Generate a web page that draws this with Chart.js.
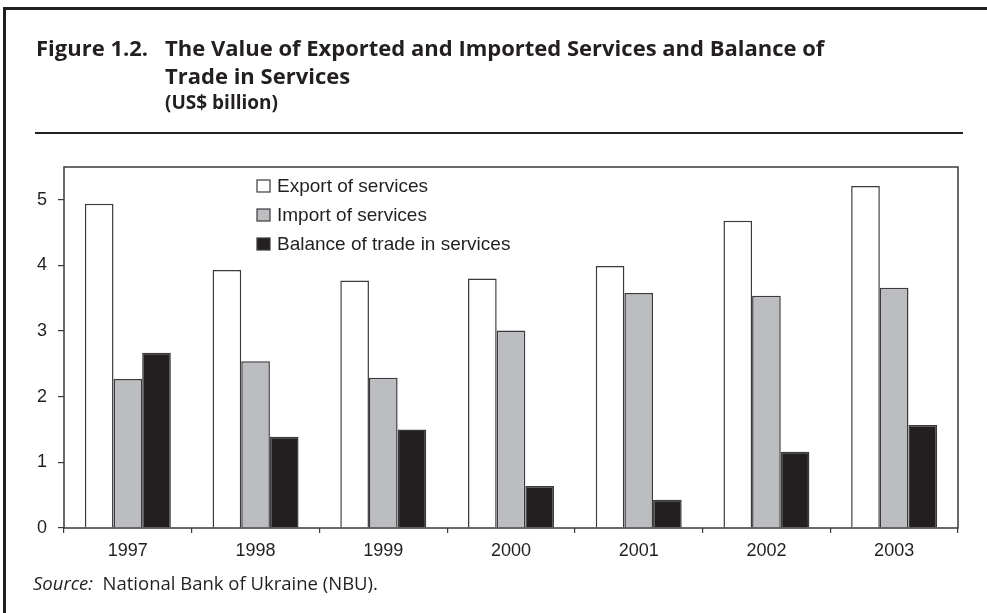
<!DOCTYPE html>
<html>
<head>
<meta charset="utf-8">
<script src="https://cdn.jsdelivr.net/npm/chart.js@4/dist/chart.umd.min.js"></script>
<style>
  html, body { margin: 0; padding: 0; background: #fff; }
  #page { position: relative; width: 987px; height: 613px; overflow: hidden; color: #231f20; }
  #frameTop { position: absolute; left: 3px; top: 7px; width: 984px; height: 3px; background: #231f20; }
  #frameLeft { position: absolute; left: 3px; top: 7px; width: 3px; height: 606px; background: #231f20; }
  .ttl { position: absolute; font-family: "Open Sans", sans-serif; font-weight: 700; font-size: 22px; line-height: 22px; white-space: nowrap; }
  #rule { position: absolute; left: 35px; top: 132px; width: 928px; height: 1.5px; background: #231f20; }
  #source { position: absolute; left: 33px; top: 570px; font-family: "Open Sans", sans-serif; font-size: 18.5px; white-space: nowrap; }
  #chartBox { position: absolute; left: 0; top: 0; width: 987px; height: 613px; }
</style>
</head>
<body>
<div id="page">
  <div id="chartBox"><canvas id="bar"></canvas></div>
  <div id="frameTop"></div>
  <div id="frameLeft"></div>
  <div class="ttl" style="left:36px; top:36px;">Figure 1.2.</div>
  <div class="ttl" style="left:165px; top:36px;">The Value of Exported and Imported Services and Balance of</div>
  <div class="ttl" style="left:165px; top:64px;">Trade in Services</div>
  <div class="ttl" style="left:165px; top:93px; font-size:19px; line-height:19px;">(US$ billion)</div>
  <div id="rule"></div>
  <div id="source"><i>Source:</i>&nbsp; National Bank of Ukraine (NBU).</div>
</div>

<script>
const years = ['1997', '1998', '1999', '2000', '2001', '2002', '2003'];
const exportServices = [4.94, 3.93, 3.77, 3.80, 3.99, 4.68, 5.21];
const importServices = [2.27, 2.54, 2.29, 3.01, 3.58, 3.54, 3.66];
const balanceServices = [2.67, 1.39, 1.50, 0.64, 0.43, 1.16, 1.57];
const yTicks = [0, 1, 2, 3, 4, 5];

const ink = '#231f20';
const edge = '#3a3a3a';

// box round the plot area plus the legend drawn inside it
const frameAndLegend = {
  id: 'frameAndLegend',
  afterDraw(chart) {
    const ctx = chart.ctx;
    const a = chart.chartArea;
    ctx.save();
    ctx.strokeStyle = edge;
    ctx.lineWidth = 1.5;
    ctx.strokeRect(a.left, a.top, a.right - a.left, a.bottom - a.top);

    ctx.font = '19px "Liberation Sans", Arial, sans-serif';
    ctx.textBaseline = 'middle';
    chart.data.datasets.forEach(function (ds, i) {
      const x = 257;
      const y = 186 + i * 29;
      ctx.fillStyle = ds.backgroundColor;
      ctx.fillRect(x, y - 6, 13, 12);
      ctx.strokeStyle = edge;
      ctx.lineWidth = 1.2;
      ctx.strokeRect(x, y - 6, 13, 12);
      ctx.fillStyle = ink;
      ctx.fillText(ds.label, x + 20, y + 1);
    });
    ctx.restore();
  }
};

const data = {
  labels: years,
  datasets: [
    { label: 'Export of services', data: exportServices, backgroundColor: '#ffffff' },
    { label: 'Import of services', data: importServices, backgroundColor: '#bcbdc1' },
    { label: 'Balance of trade in services', data: balanceServices, backgroundColor: '#231f20' }
  ].map(function (ds) {
    return Object.assign(ds, {
      borderColor: edge,
      borderWidth: 1.5,
      borderSkipped: 'bottom',
      categoryPercentage: 0.673,
      barPercentage: 1
    });
  })
};

const tickFont = { family: '"Liberation Sans", Arial, sans-serif', size: 18 };

const bar = {
  type: 'bar',
  data: data,
  options: {
    responsive: false,
    animation: false,
    devicePixelRatio: 1,
    layout: { padding: { left: 0, top: 167, right: 29, bottom: 45 } },
    plugins: {
      legend: { display: false },
      tooltip: { enabled: false }
    },
    scales: {
      x: {
        border: { display: false },
        grid: { offset: true, drawOnChartArea: false, drawTicks: true, tickLength: 5, color: edge, lineWidth: 1.2 },
        ticks: { color: ink, font: tickFont, padding: 7, maxRotation: 0 },
        afterFit: function (scale) { scale.height = 40; }
      },
      y: {
        min: 0,
        max: 5.5,
        border: { display: false },
        grid: { drawOnChartArea: false, drawTicks: true, tickLength: 6, color: edge, lineWidth: 1.2 },
        ticks: { color: ink, font: tickFont, padding: 11 },
        afterBuildTicks: function (scale) {
          scale.ticks = yTicks.map(function (v) { return { value: v }; });
        },
        afterFit: function (scale) { scale.width = 64; }
      }
    }
  },
  plugins: [frameAndLegend]
};

const canvas = document.getElementById('bar');
canvas.width = 987;
canvas.height = 613;
const chart = new Chart(canvas, bar);
</script>
</body>
</html>
